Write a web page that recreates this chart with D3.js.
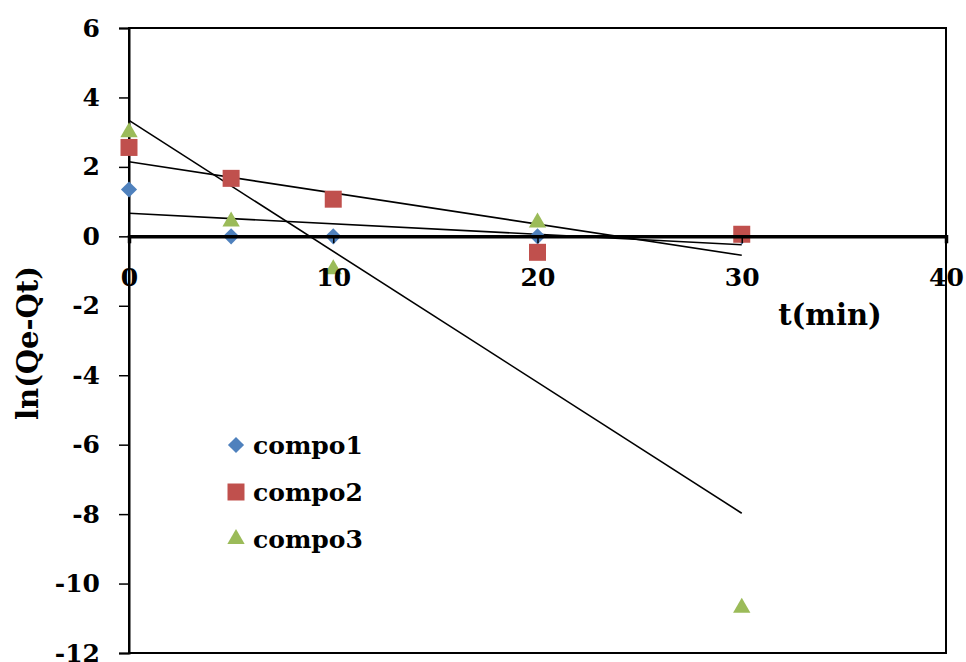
<!DOCTYPE html>
<html lang="en">
<head>
    <title>ln(Qe-Qt) vs t</title>
    <meta charset="UTF-8">
    <script src='https://d3js.org/d3.v7.min.js'></script>
    <style>
      body { margin: 0; background: #fff; }
      text { font-family: "DejaVu Serif", serif; font-weight: bold; fill: #000; }
    </style>
</head>
<body>
    <div id="viz">
      <svg style="width:966px;height:662px;display:block;"></svg>
    </div>

    <script>
      // data
      let times = [0, 5, 10, 20, 30]
      let compo1 = [1.35, 0, 0, 0, 0]
      let compo2 = [2.56, 1.67, 1.07, -0.46, 0.06]
      let compo3 = [3.0, 0.43, -0.95, 0.4, -10.7]
      let seriesNames = ["compo1", "compo2", "compo3"]
      let seriesColors = ["#4F81BD", "#C0504D", "#9BBB59"]
      let xTicks = [0, 10, 20, 30, 40]
      let yTicks = [-12, -10, -8, -6, -4, -2, 0, 2, 4, 6]

      let series = [compo1, compo2, compo3]

      let plotLeft = 129, plotRight = 946, plotTop = 28, plotBottom = 653
      let svg = d3.select("svg")

      let xScale = d3.scaleLinear().domain([0, 40]).range([plotLeft, plotRight])
      let yScale = d3.scaleLinear().domain([-12, 6]).range([plotBottom, plotTop])

      // plot frame
      svg.append("rect")
        .attr("x", plotLeft).attr("y", plotTop)
        .attr("width", plotRight - plotLeft).attr("height", plotBottom - plotTop)
        .attr("fill", "none").attr("stroke", "#000").attr("stroke-width", 2)

      // y axis (plain hyphen for negatives, like the original)
      let yAxis = d3.axisLeft(yScale).tickValues(yTicks).tickSize(10).tickPadding(19)
        .tickFormat(d => String(d))
      let yG = svg.append("g").attr("transform", `translate(${plotLeft},0)`).call(yAxis)
      yG.select(".domain").attr("stroke-width", 2)
      yG.selectAll(".tick line").attr("stroke-width", 1.5)
      yG.selectAll(".tick text").style("font-size", "25px").attr("font-family", null)

      // symbols: diamond (rotated square), square, triangle
      let symbols = [
        d3.symbol().type(d3.symbolSquare).size(130),
        d3.symbol().type(d3.symbolSquare).size(289),
        d3.symbol().type(d3.symbolTriangle).size(130)
      ]
      let rotations = [45, 0, 0]

      // least-squares trend lines, drawn from t=0 to t=30
      series.forEach((vals, i) => {
        let mx = d3.mean(times), my = d3.mean(vals)
        let sxy = d3.sum(times, (t, k) => (t - mx) * (vals[k] - my))
        let sxx = d3.sum(times, t => (t - mx) * (t - mx))
        let slope = sxy / sxx, icpt = my - slope * mx
        let ends = d3.extent(times)
        svg.append("line")
          .attr("x1", xScale(ends[0])).attr("y1", yScale(icpt + slope * ends[0]))
          .attr("x2", xScale(ends[1])).attr("y2", yScale(icpt + slope * ends[1]))
          .attr("stroke", "#000").attr("stroke-width", 1.6)
      })

      // x axis drawn through zero
      let xAxis = d3.axisBottom(xScale).tickValues(xTicks).tickSize(7).tickPadding(25)
        .tickFormat(d => String(d))
      let xG = svg.append("g").attr("transform", `translate(0,${yScale(0)})`).call(xAxis)
      xG.select(".domain").attr("stroke-width", 3.5)
      xG.selectAll(".tick line").attr("stroke-width", 1.5)

      // points
      series.forEach((vals, i) => {
        svg.append("g").selectAll("path")
          .data(vals).enter()
          .append("path")
          .attr("d", symbols[i])
          .attr("transform", (d, k) => `translate(${xScale(times[k])},${yScale(d)}) rotate(${rotations[i]})`)
          .attr("fill", seriesColors[i])
      })

      // x tick labels on top of the points
      xG.raise()
      xG.selectAll(".tick text").style("font-size", "25px").attr("font-family", null)

      // axis titles
      svg.append("text")
        .attr("x", 830).attr("y", 325)
        .attr("text-anchor", "middle")
        .style("font-size", "29px")
        .text("t(min)")
      svg.append("text")
        .attr("transform", "translate(38,343) rotate(-90)")
        .attr("text-anchor", "middle")
        .style("font-size", "29px")
        .text("ln(Qe-Qt)")

      // legend
      let legend = svg.append("g").attr("transform", "translate(236,445)")
      seriesNames.forEach((name, i) => {
        let row = legend.append("g").attr("transform", `translate(0,${i * 47})`)
        row.append("path").attr("d", symbols[i])
          .attr("transform", `rotate(${rotations[i]})`)
          .attr("fill", seriesColors[i])
        row.append("text").attr("x", 17).attr("y", 9)
          .style("font-size", "25px")
          .text(name)
      })
    </script>
</body>
</html>
